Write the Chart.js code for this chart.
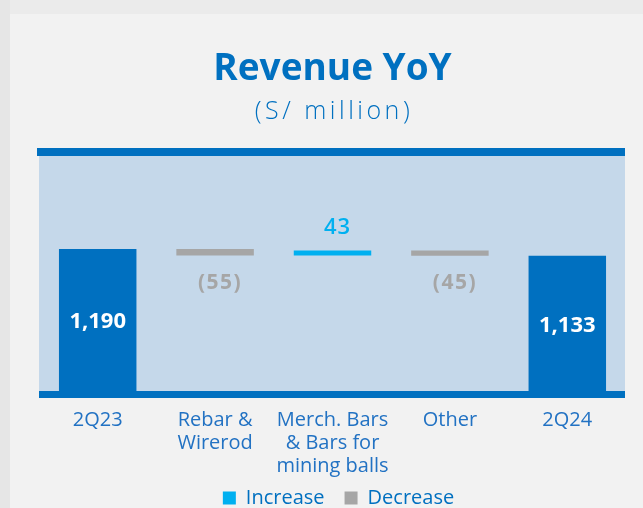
<!DOCTYPE html>
<html><head><meta charset="utf-8">
<script src="https://cdn.jsdelivr.net/npm/chart.js@4"></script>
<style>html,body{margin:0;padding:0;overflow:hidden;background:#ebebeb}canvas{display:block}</style>
</head><body>
<canvas id="c" width="643" height="546"></canvas>
<script>
const categories = [['2Q23'], ['Rebar &', 'Wirerod'], ['Merch. Bars', '& Bars for', 'mining balls'], ['Other'], ['2Q24']];
const values = [1190, -55, 43, -45, 1133];
const kinds = ['total', 'change', 'change', 'change', 'total'];
const valueLabels = ['1,190', '(55)', '43', '(45)', '1,133'];
const legendNames = ['Increase', 'Decrease'];
const titleText = 'Revenue YoY';
const subtitleText = '(S/ million)';

const C_TOTAL = '#0070c0', C_UP = '#00b0f0', C_DOWN = '#a6a6a6';
const FONT = "'Open Sans', sans-serif";

let run = 0;
const ranges = values.map((v, i) => {
  if (kinds[i] === 'total') { run = v; return [0, v]; }
  const s = run; run = run + v; return [s, run];
});
const colors = values.map((v, i) => kinds[i] === 'total' ? C_TOTAL : (v >= 0 ? C_UP : C_DOWN));

const bgPlugin = {
  id: 'bg',
  afterLayout(chart) {
    const lg = chart.legend;
    lg.top -= 28; lg.bottom -= 28;
    lg.left += 6; lg.right += 6;
  },
  beforeDraw(chart) {
    const { ctx, chartArea: a } = chart;
    ctx.save();
    ctx.fillStyle = '#e6e6e6'; ctx.fillRect(0, 0, chart.width, chart.height);
    ctx.fillStyle = '#ebebeb'; ctx.fillRect(10, 0, chart.width, chart.height);
    ctx.fillStyle = '#f2f2f2'; ctx.fillRect(10, 14, chart.width, chart.height);
    ctx.fillStyle = '#c5d8ea'; ctx.fillRect(a.left, a.top - 8, 625 - a.left, a.bottom + 7 - (a.top - 8));
    ctx.fillStyle = C_TOTAL;
    ctx.fillRect(a.left - 2, a.top - 8, 625 - a.left + 2, 8);
    ctx.fillRect(a.left, a.bottom, 625 - a.left, 7);
    // subtitle, drawn with the wide letter spacing of the original
    ctx.fillStyle = C_TOTAL;
    ctx.font = "300 25px " + FONT;
    ctx.letterSpacing = '3.5px';
    ctx.textAlign = 'center'; ctx.textBaseline = 'middle';
    ctx.fillText(subtitleText, 334, 112);
    ctx.letterSpacing = '0px';
    ctx.restore();
  }
};

const labelPlugin = {
  id: 'vlabels',
  afterDatasetsDraw(chart) {
    const { ctx } = chart;
    const meta = chart.getDatasetMeta(0);
    ctx.save();
    ctx.textAlign = 'center'; ctx.textBaseline = 'middle';
    meta.data.forEach((bar, i) => {
      const top = Math.min(bar.y, bar.base), bottom = Math.max(bar.y, bar.base);
      if (kinds[i] === 'total') {
        ctx.fillStyle = '#ffffff'; ctx.font = "700 22px " + FONT;
        ctx.fillText(valueLabels[i], bar.x, (top + bottom) / 2 + 2);
      } else if (values[i] >= 0) {
        ctx.fillStyle = C_UP; ctx.font = "600 22px " + FONT;
        ctx.letterSpacing = '1px';
        ctx.fillText(valueLabels[i], bar.x + 5, top - 23);
        ctx.letterSpacing = '0px';
      } else {
        ctx.fillStyle = C_DOWN; ctx.font = "700 21px " + FONT;
        ctx.letterSpacing = '1.5px';
        ctx.fillText(valueLabels[i], bar.x + 5, bottom + 27);
        ctx.letterSpacing = '0px';
      }
    });
    ctx.restore();
  }
};

new Chart(document.getElementById('c'), {
  type: 'bar',
  data: {
    labels: categories,
    datasets: [{ data: ranges, backgroundColor: colors, borderWidth: 0, barPercentage: 0.66, categoryPercentage: 1 }]
  },
  options: {
    responsive: false,
    animation: false,
    layout: { padding: { left: 39, right: 17, top: 0, bottom: 0 } },
    scales: {
      y: { display: false, min: 0, max: 1970 },
      x: {
        grid: { display: false, drawTicks: false }, border: { display: false },
        ticks: { color: '#2272c3', font: { family: FONT, size: 20, lineHeight: 1.15 }, padding: 18, maxRotation: 0, autoSkip: false }
      }
    },
    plugins: {
      title: { display: true, text: titleText, color: C_TOTAL, font: { family: FONT, size: 37, weight: '700', lineHeight: 1.1 }, padding: { top: 49.5, bottom: 65.8 } },
      legend: {
        display: true, position: 'bottom',
        labels: {
          color: C_TOTAL, font: { family: FONT, size: 20 }, boxWidth: 13, boxHeight: 13, padding: 20,
          generateLabels: () => legendNames.map((n, i) => ({ text: n, fillStyle: i === 0 ? C_UP : C_DOWN, strokeStyle: 'transparent', lineWidth: 0, fontColor: C_TOTAL }))
        },
        onClick: null
      },
      tooltip: { enabled: false }
    }
  },
  plugins: [bgPlugin, labelPlugin]
});
</script>
</body></html>
